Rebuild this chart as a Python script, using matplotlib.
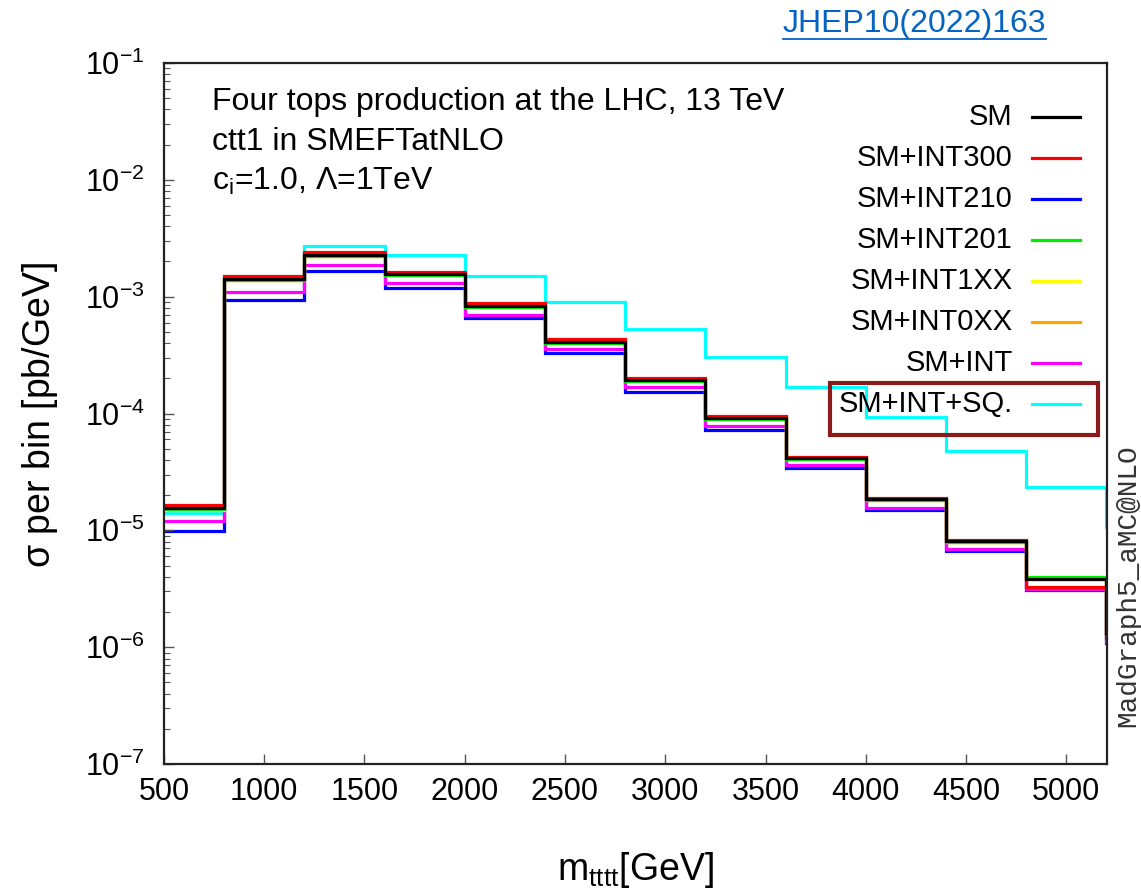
import numpy as np
import matplotlib
matplotlib.use("Agg")
import matplotlib.pyplot as plt
from matplotlib.patches import Rectangle
from matplotlib.lines import Line2D

plt.rcParams['font.family'] = ['Liberation Sans', 'DejaVu Sans']
plt.rcParams['mathtext.fontset'] = 'custom'
plt.rcParams['mathtext.rm'] = 'Liberation Sans'
plt.rcParams['mathtext.it'] = 'Liberation Sans:italic'

# bin edges in m_tttt [GeV] (last bin only shows as the drop at the right edge)
edges = [500, 800, 1200, 1600, 2000, 2400, 2800, 3200, 3600, 4000, 4400, 4800, 5200, 5600]

# sigma per bin [pb/GeV]
sm      = [1.55e-5, 1.42e-3, 2.27e-3, 1.56e-3, 8.30e-4, 4.09e-4, 1.93e-4, 9.14e-5, 4.15e-5, 1.85e-5, 8.1e-6, 3.85e-6, 1.32e-6]
int300  = [1.64e-5, 1.50e-3, 2.41e-3, 1.63e-3, 8.80e-4, 4.34e-4, 2.01e-4, 9.50e-5, 4.24e-5, 1.90e-5, 8.3e-6, 3.30e-6, 1.20e-6]
int210  = [9.80e-6, 9.35e-4, 1.66e-3, 1.19e-3, 6.56e-4, 3.29e-4, 1.52e-4, 7.20e-5, 3.41e-5, 1.49e-5, 6.6e-6, 3.10e-6, 1.08e-6]
int201  = [1.52e-5, 1.40e-3, 2.24e-3, 1.54e-3, 8.20e-4, 4.04e-4, 1.91e-4, 9.00e-5, 4.10e-5, 1.83e-5, 8.0e-6, 4.00e-6, 1.30e-6]
int1xx  = [1.50e-5, 1.39e-3, 2.22e-3, 1.53e-3, 8.15e-4, 4.01e-4, 1.90e-4, 8.95e-5, 4.08e-5, 1.82e-5, 7.9e-6, 3.80e-6, 1.30e-6]
int0xx  = [1.50e-5, 1.39e-3, 2.22e-3, 1.53e-3, 8.15e-4, 4.01e-4, 1.90e-4, 8.95e-5, 4.08e-5, 1.82e-5, 7.9e-6, 3.80e-6, 1.30e-6]
sm_int  = [1.20e-5, 1.09e-3, 1.87e-3, 1.31e-3, 6.96e-4, 3.56e-4, 1.68e-4, 7.80e-5, 3.61e-5, 1.55e-5, 6.9e-6, 3.15e-6, 1.10e-6]
sm_sq   = [1.40e-5, 1.45e-3, 2.71e-3, 2.27e-3, 1.50e-3, 9.00e-4, 5.28e-4, 3.04e-4, 1.68e-4, 9.30e-5, 4.77e-5, 2.34e-5, 1.07e-5]

labels = ['SM', 'SM+INT300', 'SM+INT210', 'SM+INT201', 'SM+INT1XX', 'SM+INT0XX', 'SM+INT', 'SM+INT+SQ.']
series = [sm, int300, int210, int201, int1xx, int0xx, sm_int, sm_sq]
colors = ['black', '#ff0000', '#0000ff', '#00ee00', '#ffff00', '#ffa500', '#ff00ff', '#00ffff']

fig = plt.figure(figsize=(11.41, 8.96), dpi=100)
ax = fig.add_axes([0.1437, 0.1473, 0.8265, 0.7824])

# draw cyan first and SM last, so the overlaps look like the original
for i in [7, 2, 6, 5, 4, 3, 1, 0]:
    ax.stairs(series[i], edges, baseline=None, color=colors[i], lw=2.3)

ax.set_yscale('log')
ax.set_xlim(500, 5203)
ax.set_ylim(1e-7, 1e-1)
ax.set_xticks(np.arange(500, 5001, 500))
ax.set_yticks([10.0**k for k in range(-7, 0)])
ax.set_yticklabels([r'$10^{%d}$' % k for k in range(-7, 0)])
ax.tick_params(axis='both', which='major', direction='in', length=7, width=1.0,
               labelsize=22, colors='#555555', labelcolor='black')
ax.tick_params(axis='y', which='minor', direction='in', length=4, width=0.8, colors='#555555')
ax.tick_params(axis='x', which='major', pad=9)
ax.tick_params(axis='y', which='major', pad=14)
for s in ax.spines.values():
    s.set_linewidth(1.6)
    s.set_color('#222222')

fig.text(0.035, 0.537, r'$\mathrm{\sigma}$ per bin [pb/GeV]', rotation=90,
         ha='center', va='center', fontsize=27)
fig.text(0.557, 0.029, r'm$_\mathrm{tttt}$[GeV]', ha='center', va='center', fontsize=27)

# annotation
notes = ['Four tops production at the LHC, 13 TeV', 'ctt1 in SMEFTatNLO',
         r'c$_\mathrm{i}$=1.0, $\Lambda$=1TeV']
for k, t in enumerate(notes):
    ax.text(0.051, 0.945 - 0.057 * k, t, transform=ax.transAxes,
            ha='left', va='center', fontsize=23)

# legend: text right-aligned, line sample to the right
for k, (lab, c) in enumerate(zip(labels, colors)):
    y = 0.923 - 0.0585 * k
    ax.text(0.900, y, lab, transform=ax.transAxes, ha='right', va='center', fontsize=21)
    ax.add_line(Line2D([0.9205, 0.9714], [y, y], transform=ax.transAxes,
                       color=c, lw=2.3, clip_on=False))

# highlight box around the last legend entry
ax.add_patch(Rectangle(((830 - 164) / 943, (764 - 435) / 701), 268 / 943, 52 / 701,
                       transform=ax.transAxes, fill=False, edgecolor='#8b1a1a',
                       lw=3, clip_on=False))

fig.text(0.9886, 0.346, 'MadGraph5_aMC@NLO', rotation=90, ha='center', va='center',
         fontsize=20, family='Liberation Mono', color='#333333')

# reference link
link = fig.text(0.686, 0.973, 'JHEP10(2022)163', ha='left', va='center',
                fontsize=23, color='#0563c1')
fig.canvas.draw()
bb = link.get_window_extent().transformed(fig.transFigure.inverted())
fig.add_artist(Line2D([bb.x0, bb.x1], [0.956, 0.956], transform=fig.transFigure,
                      color='#0563c1', lw=1.3))

fig.savefig('out.png', dpi=100)
